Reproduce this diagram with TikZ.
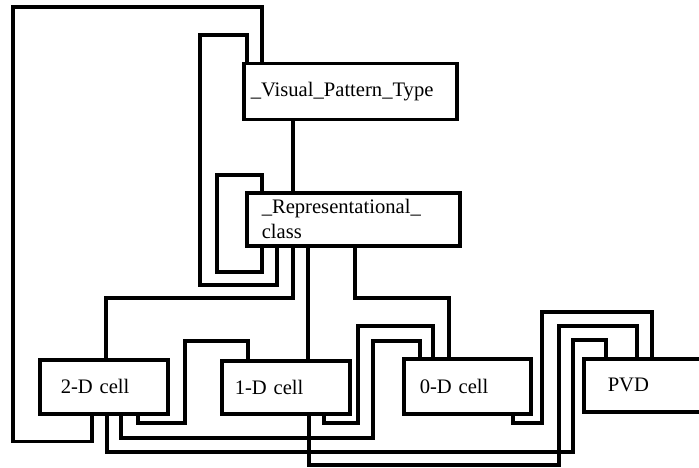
\documentclass[tikz,border=0pt]{standalone}
\usepackage{fontspec}
\setmainfont{Liberation Serif}
\usetikzlibrary{calc}
\begin{document}
\begin{tikzpicture}[x=1pt,y=-1pt,
  box/.style={draw, line width=3.5pt, rectangle, anchor=north west, align=left, inner ysep=0pt,
    font=\fontsize{20.6}{25}\selectfont},
  wire/.style={line width=3.5pt, line join=miter}]
\useasboundingbox (0,0) rectangle (699,468);
\clip (0,0) rectangle (699,468);
% boxes
\node[box, minimum height=56pt, inner xsep=7pt, text width=199pt] (vpt) at (242,62) {\_Visual\_Pattern\_Type};
\node[box, minimum height=53pt, inner xsep=15pt, text width=183pt] (rc) at (245,191) {\_Representational\_\\class};
\node[box, minimum height=54pt, inner xsep=21pt, text width=86pt] (d2) at (38,358) {2-D cell};
\node[box, minimum height=53pt, inner xsep=13pt, text width=102pt] (d1) at (220,359) {1-D cell};
\node[box, minimum height=55pt, inner xsep=16pt, text width=95pt] (d0) at (402,357) {0-D cell};
\node[box, minimum height=53pt, inner xsep=24pt, text width=92pt] (pvd) at (582,357) {PVD};
% connectors
\draw[wire] ($(d2.south west)+(54,0)$) -- ++(0,26) -| (13,7) -| ($(vpt.north west)+(20,0)$);
\draw[wire] ($(vpt.north west)+(5,0)$) |- (200,35) |- (277,285) -- ($(rc.south west)+(32,0)$);
\draw[wire] ($(vpt.south west)+(51,0)$) -- ($(rc.north west)+(48,0)$);
\draw[wire] ($(rc.north west)+(17,0)$) |- (217,175) |- (262,272) -- ($(rc.south west)+(17,0)$);
\draw[wire] ($(rc.south west)+(48,0)$) |- (106,298) -- ($(d2.north west)+(68,0)$);
\draw[wire] ($(rc.south west)+(63,0)$) -- ($(d1.north west)+(88,0)$);
\draw[wire] ($(rc.south west)+(110,0)$) |- (449,298) -- ($(d0.north west)+(47,0)$);
\draw[wire] ($(d2.south west)+(100,0)$) |- (185,423) |- (248,341) -- ($(d1.north west)+(28,0)$);
\draw[wire] ($(d1.south west)+(104,0)$) |- (358,423) |- (433,326) -- ($(d0.north west)+(31,0)$);
\draw[wire] ($(d2.south west)+(83,0)$) |- (373,438) |- (420,341) -- ($(d0.north west)+(18,0)$);
\draw[wire] ($(d2.south west)+(69,0)$) |- (573,452) |- (606,340) -- ($(pvd.north west)+(24,0)$);
\draw[wire] ($(d0.south west)+(111,0)$) |- (542,423) |- (652,312) -- ($(pvd.north west)+(70,0)$);
\draw[wire] ($(d1.south west)+(89,0)$) |- (559,465) |- (637,326) -- ($(pvd.north west)+(55,0)$);
\end{tikzpicture}
\end{document}
